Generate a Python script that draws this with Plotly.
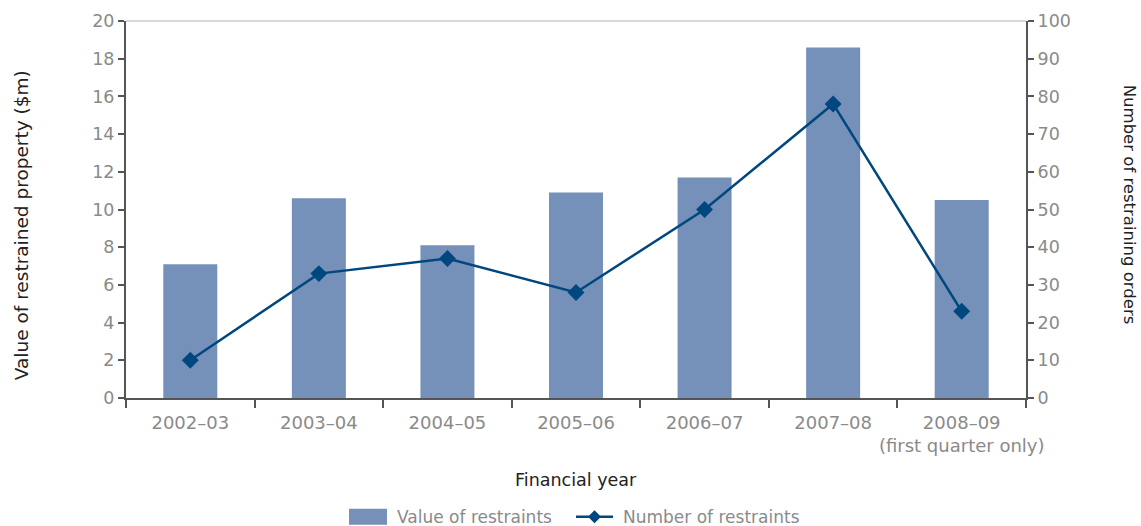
import plotly.graph_objects as go

# Financial years and the two series
years = ["2002–03", "2003–04", "2004–05", "2005–06", "2006–07", "2007–08",
         "2008–09<br>(first quarter only)"]
value_restraints = [7.1, 10.6, 8.1, 10.9, 11.7, 18.6, 10.5]   # $m
number_restraints = [10, 33, 37, 28, 50, 78, 23]              # orders

left_ticks = list(range(0, 21, 2))
right_ticks = list(range(0, 101, 10))

FONT = "DejaVu Sans"
TICK_GREY = "#8a8a8a"
AXIS_GREY = "#555555"
TITLE_DARK = "#222222"
BAR_BLUE = "#7590b9"
LINE_BLUE = "#00467f"

W, H = 1141, 526
ML, MR, MT, MB = 126, 115, 21, 127.5
PW, PH = W - ML - MR, H - MT - MB


def px_x(px):
    """Pixel column -> paper x."""
    return (px - ML) / PW


def px_y(py):
    """Pixel row -> paper y."""
    return (H - MB - py) / PH


fig = go.Figure()

fig.add_trace(go.Bar(
    x=years, y=value_restraints, name="Value of restraints",
    marker=dict(color=BAR_BLUE, line=dict(width=0)),
    width=0.42, yaxis="y", showlegend=False,
))

fig.add_trace(go.Scatter(
    x=years, y=number_restraints, name="Number of restraints",
    mode="lines+markers",
    line=dict(color=LINE_BLUE, width=2.5),
    marker=dict(symbol="diamond", size=13, color=LINE_BLUE),
    yaxis="y2", showlegend=False,
))

# Legend drawn below the axis title: wide bar swatch, line-with-diamond key
leg_y = 517.5
dx, dy = 6.5 / PW, 6.5 / PH
cx, cy = px_x(594.5), px_y(leg_y)
legend_shapes = [
    dict(type="rect", xref="paper", yref="paper",
         x0=px_x(349), x1=px_x(387), y0=px_y(525.5), y1=px_y(509.5),
         fillcolor=BAR_BLUE, line=dict(width=0)),
    dict(type="line", xref="paper", yref="paper",
         x0=px_x(576), x1=px_x(613), y0=cy, y1=cy,
         line=dict(color=LINE_BLUE, width=2.5)),
    dict(type="path", xref="paper", yref="paper",
         path=f"M {cx - dx} {cy} L {cx} {cy + dy} L {cx + dx} {cy} L {cx} {cy - dy} Z",
         fillcolor=LINE_BLUE, line=dict(width=0)),
]

fig.update_layout(
    width=W, height=H,
    margin=dict(l=ML, r=MR, t=MT, b=MB),
    paper_bgcolor="white", plot_bgcolor="white",
    font=dict(family=FONT, size=17, color=TICK_GREY),
    showlegend=False,
    xaxis=dict(
        type="category", automargin=False, tickangle=0,
        showline=True, linecolor=AXIS_GREY, linewidth=2,
        ticks="outside", tickson="boundaries", ticklen=8,
        tickcolor=AXIS_GREY, tickwidth=1.5, ticklabelstandoff=7,
        tickfont=dict(family=FONT, size=18, color=TICK_GREY),
        showgrid=False, zeroline=False,
        range=[-0.5, 6.5],
    ),
    yaxis=dict(
        range=[0, 20], tickvals=left_ticks, automargin=False,
        showline=True, linecolor=AXIS_GREY, linewidth=2,
        ticks="outside", ticklen=6, tickcolor=AXIS_GREY, tickwidth=1.5,
        tickfont=dict(family=FONT, size=17.5, color=TICK_GREY),
        showgrid=False, zeroline=False,
    ),
    yaxis2=dict(
        range=[0, 100], tickvals=right_ticks, automargin=False,
        overlaying="y", side="right",
        showline=True, linecolor=AXIS_GREY, linewidth=2,
        ticks="outside", ticklen=6, tickcolor=AXIS_GREY, tickwidth=1.5,
        tickfont=dict(family=FONT, size=17.5, color=TICK_GREY),
        showgrid=False, zeroline=False,
    ),
    shapes=[
        # light rule along the top of the plot area
        dict(type="line", xref="paper", yref="paper", x0=0, x1=1, y0=1, y1=1,
             line=dict(color="#cccccc", width=1.5), layer="below"),
    ] + legend_shapes,
    annotations=[
        dict(text="Value of restrained property ($m)", xref="paper", yref="paper",
             x=px_x(21), y=px_y(225.5), xanchor="center", yanchor="middle",
             textangle=-90, showarrow=False,
             font=dict(family=FONT, size=18.5, color=TITLE_DARK)),
        dict(text="Number of restraining orders", xref="paper", yref="paper",
             x=px_x(1129), y=px_y(205), xanchor="center", yanchor="middle",
             textangle=90, showarrow=False,
             font=dict(family=FONT, size=16.5, color=TITLE_DARK)),
        dict(text="Financial year", xref="paper", yref="paper",
             x=0.5, y=px_y(481), xanchor="center", yanchor="middle",
             showarrow=False,
             font=dict(family=FONT, size=17.5, color=TITLE_DARK)),
        dict(text="Value of restraints", xref="paper", yref="paper",
             x=px_x(395), y=px_y(leg_y), xanchor="left", yanchor="middle",
             showarrow=False,
             font=dict(family=FONT, size=17, color=TICK_GREY)),
        dict(text="Number of restraints", xref="paper", yref="paper",
             x=px_x(621), y=px_y(leg_y), xanchor="left", yanchor="middle",
             showarrow=False,
             font=dict(family=FONT, size=17, color=TICK_GREY)),
    ],
)

fig.write_html("out.html")
